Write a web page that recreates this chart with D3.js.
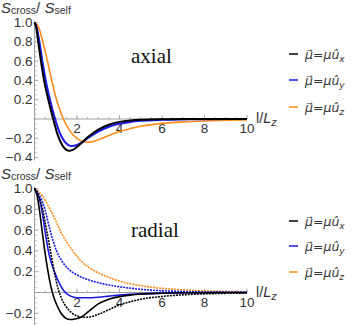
<!DOCTYPE html>
<html><head><meta charset="utf-8">
<script src="https://cdn.jsdelivr.net/npm/d3@7"></script>
<style>body{margin:0;background:#fff}svg{display:block}</style>
</head><body><svg id="c" width="353" height="325"></svg>
<script>
// ---------- data ----------
const xTickValues = [2, 4, 6, 8, 10];
const axialYTicks = [-0.4, -0.2, 0.2, 0.4, 0.6, 0.8, 1.0];
const radialYTicks = [-0.2, 0.2, 0.4, 0.6, 0.8, 1.0];
const legendLabels = ["x", "y", "z"];
const seriesColors = ["#000000", "#1a1ae6", "#ff8c1a"];

// axial panel
const axialUx = [[0,1],[0.08,0.95],[0.15,0.84],[0.29,0.62],[0.45,0.4],[0.65,0.2],[0.88,0],[1.1,-0.17],[1.3,-0.27],[1.5,-0.32],[1.62,-0.33],[1.8,-0.32],[2.0,-0.29],[2.25,-0.24],[2.5,-0.19],[3,-0.11],[3.5,-0.06],[4,-0.03],[4.5,-0.015],[5,-0.008],[6,-0.003],[7,-0.001],[10,0]];
const axialUy = [[0,1],[0.1,0.95],[0.23,0.8],[0.37,0.6],[0.53,0.4],[0.73,0.2],[0.97,0],[1.2,-0.15],[1.4,-0.23],[1.6,-0.27],[1.75,-0.28],[2.0,-0.27],[2.25,-0.24],[2.5,-0.2],[3,-0.13],[3.5,-0.08],[4,-0.05],[4.5,-0.03],[5,-0.018],[6,-0.008],[7,-0.004],[8,-0.002],[10,0]];
const axialUz = [[0,1],[0.2,0.95],[0.4,0.79],[0.6,0.61],[0.8,0.41],[1.0,0.23],[1.2,0.09],[1.4,-0.02],[1.6,-0.1],[1.8,-0.16],[2.0,-0.2],[2.3,-0.235],[2.6,-0.24],[3,-0.215],[3.5,-0.17],[4,-0.13],[4.5,-0.1],[5,-0.075],[6,-0.045],[7,-0.03],[8,-0.02],[9,-0.013],[10,-0.01]];

// radial panel (solid and dotted)
const radialUxSolid = [[0,1],[0.1,0.95],[0.23,0.8],[0.34,0.62],[0.47,0.42],[0.62,0.22],[0.78,0.05],[0.9,-0.04],[1.05,-0.12],[1.25,-0.2],[1.45,-0.245],[1.65,-0.26],[1.9,-0.255],[2.2,-0.235],[2.5,-0.19],[3,-0.11],[3.5,-0.065],[4,-0.04],[4.5,-0.025],[5,-0.015],[6,-0.007],[7,-0.003],[8,-0.001],[10,0]];
const radialUxDotted = [[0,1],[0.2,0.93],[0.38,0.8],[0.57,0.6],[0.75,0.4],[0.93,0.2],[1.12,0.03],[1.3,-0.07],[1.5,-0.14],[1.75,-0.195],[2.0,-0.225],[2.3,-0.238],[2.6,-0.235],[3,-0.21],[3.5,-0.165],[4,-0.12],[4.5,-0.09],[5,-0.065],[6,-0.038],[7,-0.022],[8,-0.013],[9,-0.008],[10,-0.005]];
const radialUySolid = [[0,1],[0.2,0.92],[0.34,0.8],[0.49,0.6],[0.65,0.4],[0.8,0.28],[0.96,0.19],[1.1,0.12],[1.3,0.04],[1.45,0],[1.7,-0.035],[2.0,-0.05],[2.5,-0.05],[3,-0.045],[3.5,-0.035],[4,-0.025],[5,-0.012],[6,-0.006],[8,-0.002],[10,0]];
const radialUyDotted = [[0,1],[0.25,0.93],[0.49,0.8],[0.73,0.6],[1.04,0.4],[1.3,0.3],[1.6,0.225],[1.9,0.18],[2.3,0.14],[2.8,0.105],[3.3,0.08],[4,0.055],[5,0.031],[6,0.017],[7,0.009],[8,0.005],[10,0.001]];
const radialUzDotted = [[0,1],[0.2,0.97],[0.4,0.92],[0.73,0.8],[1.0,0.69],[1.2,0.6],[1.5,0.49],[1.8,0.4],[2.2,0.3],[2.9,0.2],[3.5,0.145],[4,0.11],[5,0.066],[6,0.04],[7,0.025],[8,0.015],[9,0.01],[10,0.007]];

// ---------- drawing ----------
const svg = d3.select("#c");
const FONT = "'Liberation Sans', Arial, sans-serif";
const x = d3.scaleLinear().domain([0, 10]).range([34.5, 247]);

function panel(g, yScale, yTicks, yMin, series, title, titleY, legendYs, labelY) {
  g.append("line").attr("x1", x(0)).attr("x2", x(0))
    .attr("y1", yScale(1.0) - 2).attr("y2", yScale(yMin))
    .attr("stroke", "#a0a0a0").attr("stroke-width", 1);
  const minor = d3.range(Math.ceil(yMin / 0.05) * 0.05, 1.0001, 0.05);
  g.selectAll(".ym").data(minor).join("line")
    .attr("x1", x(0)).attr("x2", x(0) + 2)
    .attr("y1", d => yScale(d)).attr("y2", d => yScale(d))
    .attr("stroke", "#a0a0a0").attr("stroke-width", 0.8);
  g.selectAll(".yM").data(yTicks).join("line")
    .attr("x1", x(0)).attr("x2", x(0) + 4)
    .attr("y1", d => yScale(d)).attr("y2", d => yScale(d))
    .attr("stroke", "#a0a0a0").attr("stroke-width", 0.8);
  g.selectAll(".yl").data(yTicks).join("text")
    .attr("x", x(0) - 2).attr("y", d => yScale(d) + 4.5)
    .attr("text-anchor", "end").attr("font-family", FONT).attr("font-size", 13.5)
    .attr("fill", "#333")
    .text(d => d3.format(".1f")(d).replace("-", "\u2212"));

  const y0 = yScale(0);
  g.append("line").attr("x1", x(0)).attr("x2", x(10))
    .attr("y1", y0).attr("y2", y0).attr("stroke", "#a0a0a0").attr("stroke-width", 1);
  g.selectAll(".xm").data(d3.range(0.5, 10.01, 0.5)).join("line")
    .attr("x1", d => x(d)).attr("x2", d => x(d))
    .attr("y1", y0).attr("y2", y0 - 2)
    .attr("stroke", "#a0a0a0").attr("stroke-width", 0.8);
  g.selectAll(".xM").data(xTickValues).join("line")
    .attr("x1", d => x(d)).attr("x2", d => x(d))
    .attr("y1", y0).attr("y2", y0 - 4)
    .attr("stroke", "#a0a0a0").attr("stroke-width", 0.8);
  g.selectAll(".xl").data(xTickValues).join("text")
    .attr("x", d => x(d)).attr("y", y0 + 14)
    .attr("text-anchor", "middle").attr("font-family", FONT).attr("font-size", 13.5)
    .attr("fill", "#333").text(d => d);

  const xl = g.append("text").attr("x", 256).attr("y", y0 + 4)
    .attr("font-family", FONT).attr("font-size", 14.5).attr("fill", "#333");
  xl.append("tspan").text("l/");
  xl.append("tspan").attr("font-style", "italic").text("L");
  xl.append("tspan").attr("font-style", "italic").attr("font-size", 11).attr("dy", 3).text("z");

  const yl = g.append("text").attr("x", 1).attr("y", labelY)
    .attr("font-family", FONT).attr("font-size", 15).attr("fill", "#333");
  yl.append("tspan").attr("font-style", "italic").text("S");
  yl.append("tspan").attr("font-size", 10.5).attr("dy", 1.5).text("cross");
  yl.append("tspan").attr("dy", -1.5).text("/ ");
  yl.append("tspan").attr("font-style", "italic").text("S");
  yl.append("tspan").attr("font-size", 10.5).attr("dy", 1.5).text("self");

  const line = d3.line().x(d => x(d[0])).y(d => yScale(d[1])).curve(d3.curveMonotoneX);
  series.forEach(s => {
    g.append("path").attr("d", line(s.data)).attr("fill", "none")
      .attr("stroke", s.color).attr("stroke-width", s.width)
      .attr("stroke-dasharray", s.dash || null)
      .attr("stroke-linejoin", "round");
  });

  g.append("text").attr("x", 131).attr("y", titleY)
    .attr("font-family", "'Liberation Serif', 'Times New Roman', serif")
    .attr("font-size", 21).attr("fill", "#111").text(title);

  legendLabels.forEach((lab, i) => {
    const ly = legendYs[i];
    g.append("line").attr("x1", 289).attr("x2", 298).attr("y1", ly).attr("y2", ly)
      .attr("stroke", seriesColors[i]).attr("stroke-width", 1.5);
    const t = g.append("text").attr("x", 305).attr("y", ly + 5)
      .attr("font-family", "'DejaVu Sans', sans-serif").attr("font-size", 12.5).attr("font-style", "italic")
      .attr("fill", "#333");
    t.append("tspan").text("\u03bc\u20d7=\u03bc\u00fb");
    t.append("tspan").attr("font-size", 9).attr("dy", 3).text(lab);
  });
}

const topWrap = svg.append("g");
topWrap.append("clipPath").attr("id", "clipTop").append("rect")
  .attr("x", 0).attr("y", 0).attr("width", 353).attr("height", 161);
const topG = topWrap.append("g").attr("clip-path", "url(#clipTop)");
const yTop = d3.scaleLinear().domain([0, 1]).range([119, 22.5]);
panel(topG, yTop, axialYTicks, -0.43, [
  {data: axialUz, color: seriesColors[2], width: 1.6},
  {data: axialUy, color: seriesColors[1], width: 2},
  {data: axialUx, color: seriesColors[0], width: 2}
], "axial", 63, [54, 80, 107], 12.5);

const yBot = d3.scaleLinear().domain([0, 1]).range([292.5, 188.5]);
panel(svg.append("g"), yBot, radialYTicks, -0.31, [
  {data: radialUzDotted, color: seriesColors[2], width: 1.6, dash: "2,1"},
  {data: radialUyDotted, color: seriesColors[1], width: 1.6, dash: "2,1"},
  {data: radialUySolid, color: seriesColors[1], width: 1.6},
  {data: radialUxDotted, color: seriesColors[0], width: 1.6, dash: "2,1"},
  {data: radialUxSolid, color: seriesColors[0], width: 1.6}
], "radial", 237, [221, 246, 272], 178.5);
</script></body></html>
